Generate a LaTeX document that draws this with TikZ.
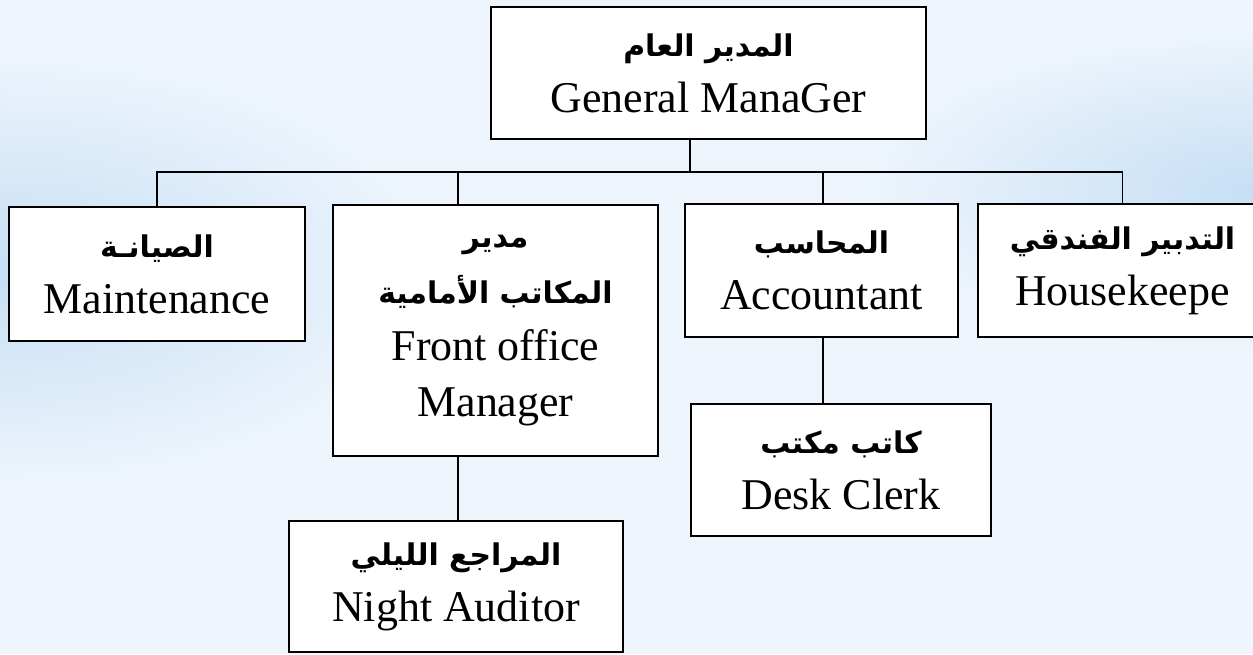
\documentclass[tikz,border=0pt]{standalone}
\usepackage{fontspec}
\setmainfont{Liberation Serif}
\newfontfamily\arabicfont[Script=Arabic]{DejaVu Sans}
\TeXXeTstate=1
\newcommand{\artext}[1]{{\arabicfont\bfseries\fontsize{17}{32}\selectfont\beginR #1\endR}}

\definecolor{bgbase}{HTML}{EEF5FC}
\definecolor{bgblue}{HTML}{C6DFF5}

\tikzset{
	box/.style={draw, fill=white, line width=1.4pt, inner sep=0pt, align=center, font=\fontsize{25}{32}\selectfont},
	link/.style={line width=1.1pt}
}

\begin{document}
\begin{tikzpicture}[x=0.02cm, y=-0.02cm]
		\useasboundingbox (0,0) rectangle (1253,654);
		\clip (0,0) rectangle (1253,654);
		% background
		\fill[bgbase] (0,0) rectangle (1253,654);
		\shade[inner color=bgblue, outer color=bgbase] (0,270) ellipse (9cm and 4.4cm);
		\shade[inner color=bgblue, outer color=bgbase] (1253,190) ellipse (8cm and 3.2cm);
		% boxes
		\node[box, minimum width=8.70cm, minimum height=2.64cm] (gm) at (708.5,73) {\artext{المدير العام}\\General ManaGer};
		\node[box, minimum width=5.92cm, minimum height=2.68cm] (maint) at (157,274) {\artext{الصيانـة}\\Maintenance};
		\node[box, minimum width=6.50cm, minimum height=5.02cm] (front) at (495.5,330.5) {\artext{مدير}\\\artext{المكاتب الأمامية}\\Front office\\Manager};
		\node[box, minimum width=5.46cm, minimum height=2.66cm] (acct) at (821.5,270.5) {\artext{المحاسب}\\Accountant};
		\node[box, minimum width=5.78cm, minimum height=2.66cm] (house) at (1122.5,270.5) {\artext{التدبير الفندقي}\\Housekeepe};
		\node[box, minimum width=6.00cm, minimum height=2.64cm] (desk) at (841,470) {\artext{كاتب مكتب}\\Desk Clerk};
		\node[box, minimum width=6.68cm, minimum height=2.62cm] (night) at (456,586.5) {\artext{المراجع الليلي}\\Night Auditor};
		% connectors
		\coordinate (bus) at (0,172);
		\coordinate (gmdrop) at (690,0);
		\coordinate (fodrop) at (458,0);
		\coordinate (acdrop) at (823,0);
		\draw[link] (gm.south -| gmdrop) -- (bus -| gmdrop);
		\draw[link] (maint.north) |- (bus -| house.north) -- (house.north);
		\draw[link] (bus -| fodrop) -- (front.north -| fodrop);
		\draw[link] (bus -| acdrop) -- (acct.north -| acdrop);
		\draw[link] (front.south -| fodrop) -- (night.north -| fodrop);
		\draw[link] (acct.south -| acdrop) -- (desk.north -| acdrop);
	\end{tikzpicture}
\end{document}
